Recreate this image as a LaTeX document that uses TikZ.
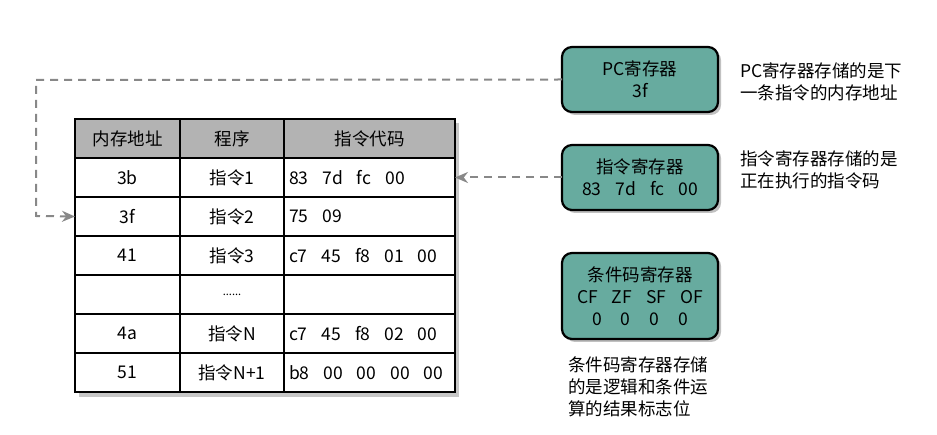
\documentclass[tikz,border=0pt]{standalone}
\usepackage{fontspec}
\setmainfont{Noto Sans CJK SC}
\usetikzlibrary{arrows.meta,shadows}
\definecolor{teal1}{HTML}{67AB9F}
\definecolor{hdr}{HTML}{B3B3B3}
\definecolor{dline}{HTML}{888888}
\newcommand{\gp}{\hspace{14pt}}
\newcommand{\zp}{\hspace{19pt}}
\begin{document}
\begin{tikzpicture}[x=1pt,y=-1pt,
  every node/.style={font=\fontsize{17.5}{22}\selectfont},
  cell/.style={draw=black, fill=white, line width=2.2pt, minimum height=39pt, inner sep=0pt, outer sep=0pt, anchor=north west},
  c1/.style={cell, minimum width=105pt},
  c2/.style={cell, minimum width=104pt},
  c3/.style={cell, minimum width=171pt, text width=161pt, inner xsep=5pt, align=left},
  hd/.style={fill=hdr},
  reg/.style={draw=black, line width=2.2pt, fill=teal1, rounded corners=10pt, minimum width=156pt, align=center, inner sep=0pt, outer sep=0pt,
     drop shadow={shadow xshift=3pt, shadow yshift=-3pt, fill=black!35, opacity=0.7}},
  note/.style={anchor=north west, align=left, inner sep=0pt},
  conn/.style={draw=dline, line width=2pt, dash pattern=on 8pt off 6pt, -{Stealth[length=13pt,width=11pt]}}
]
\useasboundingbox (0,0) rectangle (937,435);
% table shadow
\fill[black!22] (79,123) rectangle (459,397);
% header
\node[c1,hd] (h1) at (75,119) {内存地址};
\node[c2,hd] (h2) at (180,119) {程序};
\node[c3,hd,align=center] (h3) at (284,119) {指令代码};
% rows
\node[c1] (a1) at (75,158) {3b};
\node[c2] (b1) at (180,158) {指令1};
\node[c3] (d1) at (284,158) {83\gp 7d\gp fc\gp 00};
\node[c1] (a2) at (75,197) {3f};
\node[c2] (b2) at (180,197) {指令2};
\node[c3] (d2) at (284,197) {75\gp 09};
\node[c1] (a3) at (75,236) {41};
\node[c2] (b3) at (180,236) {指令3};
\node[c3] (d3) at (284,236) {c7\gp 45\gp f8\gp 01\gp 00};
\node[c1] (a4) at (75,275) {};
\node[c2] (b4) at (180,275) {\fontsize{11}{11}\selectfont ......};
\node[c3] (d4) at (284,275) {};
\node[c1] (a5) at (75,314) {4a};
\node[c2] (b5) at (180,314) {指令N};
\node[c3] (d5) at (284,314) {c7\gp 45\gp f8\gp 02\gp 00};
\node[c1] (a6) at (75,353) {51};
\node[c2] (b6) at (180,353) {指令N+1};
\node[c3] (d6) at (284,353) {b8\gp 00\gp 00\gp 00\gp 00};
% registers
\node[reg, minimum height=65pt] (pc) at (640,79.5) {PC寄存器\\3f};
\node[reg, minimum height=65pt] (ir) at (640,177.5) {指令寄存器\\83\gp 7d\gp fc\gp 00};
\node[reg, minimum height=86pt] (cc) at (640,296) {条件码寄存器\\CF\gp ZF\gp SF\gp OF\\0\zp 0\zp 0\zp 0};
% notes
\node[note] (n1) at (740,62) {PC寄存器存储的是下\\一条指令的内存地址};
\node[note] (n2) at (740,150) {指令寄存器存储的是\\正在执行的指令码};
\node[note] (n3) at (568,356) {条件码寄存器存储\\的是逻辑和条件运\\算的结果标志位};
% connectors
\coordinate (t1) at (36,80);
\coordinate (t2) at (36,216);
\draw[conn] (pc.west) -- (t1) -- (t2) -- (a2.west);
\draw[conn] (ir.west) -- (ir.west -| d1.east);
\end{tikzpicture}
\end{document}
